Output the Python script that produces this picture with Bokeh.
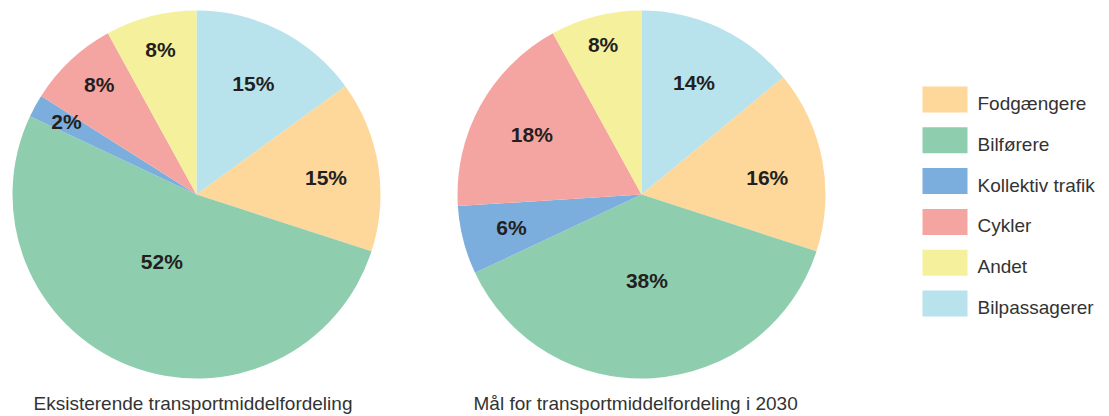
import math
from bokeh.plotting import figure
from bokeh.models import Range1d, ColumnDataSource
from bokeh.core.properties import value
from bokeh.embed import file_html
from bokeh.resources import INLINE

# ---- data ----
categories = ["Bilpassagerer", "Fodgængere", "Bilførere", "Kollektiv trafik", "Cykler", "Andet"]
existing = [15, 15, 52, 2, 8, 8]
goal_2030 = [14, 16, 38, 6, 18, 8]
titles = ["Eksisterende transportmiddelfordeling", "Mål for transportmiddelfordeling i 2030"]
legend_order = ["Fodgængere", "Bilførere", "Kollektiv trafik", "Cykler", "Andet", "Bilpassagerer"]

# ---- style ----
colors = {
    "Bilpassagerer": "#B8E2EC",
    "Fodgængere": "#FDD89A",
    "Bilførere": "#8ECEAF",
    "Kollektiv trafik": "#7BAEDC",
    "Cykler": "#F5A5A1",
    "Andet": "#F5F09B",
}
# label placement: radius fraction and clockwise angle tweak (degrees)
label_r1 = [0.68, 0.71, 0.41, 0.81, 0.80, 0.81]
label_da1 = [0, 1.5, 5.8, 0.5, 1.8, 0.4]
label_r2 = [0.67, 0.69, 0.47, 0.73, 0.68, 0.84]
label_da2 = [0, 2.9, 0, 0, 0, 0]
FONT = "Liberation Sans"
W, H = 1109, 416

def sy(y):  # screen y -> data y
    return H - y

p = figure(width=W, height=H, output_backend="svg", toolbar_location=None,
           x_range=Range1d(0, W), y_range=Range1d(0, H), min_border=0)
p.axis.visible = False
p.grid.visible = False
p.outline_line_color = None
p.background_fill_color = "white"
p.border_fill_color = "white"

R = 184
pies = [(196, 194, existing, label_r1, label_da1, titles[0], 33),
        (641, 194, goal_2030, label_r2, label_da2, titles[1], 473)]

for cx, cyy, vals, lr, lda, title, tx in pies:
    cy = sy(cyy)
    total = float(sum(vals))
    starts, ends, lx, ly, labels, cols = [], [], [], [], [], []
    cum = 0.0
    for cat, v, f, da in zip(categories, vals, lr, lda):
        a0 = math.pi / 2 - 2 * math.pi * cum / total
        a1 = math.pi / 2 - 2 * math.pi * (cum + v) / total
        mid = (a0 + a1) / 2 - math.radians(da)
        starts.append(a0)
        ends.append(a1)
        lx.append(cx + f * R * math.cos(mid))
        ly.append(cy + f * R * math.sin(mid))
        labels.append(f"{v}%")
        cols.append(colors[cat])
        cum += v
    src = ColumnDataSource(dict(x=[cx] * len(vals), y=[cy] * len(vals),
                                start=starts, end=ends, color=cols, cat=categories))
    p.wedge(x="x", y="y", radius=R, start_angle="start", end_angle="end",
            direction="clock", fill_color="color", line_color=None, source=src)
    p.text(x=lx, y=ly, text=labels, text_align="center", text_baseline="middle",
           text_font=value(FONT), text_font_style="bold", text_font_size="21px",
           text_color="#231F20")
    p.text(x=[tx], y=[sy(403)], text=[title], text_align="left", text_baseline="middle",
           text_font=value(FONT), text_font_size="19px", text_color="#333333")

# legend
lg_x0, lg_w, lg_h = 922, 45, 26
lg_tops = [86 + 40.8 * i for i in range(len(legend_order))]
p.rect(x=[lg_x0 + lg_w / 2] * len(legend_order),
       y=[sy(t + lg_h / 2) for t in lg_tops],
       width=lg_w, height=lg_h,
       fill_color=[colors[c] for c in legend_order], line_color=None)
p.text(x=[977] * len(legend_order), y=[sy(t + lg_h / 2 + 4) for t in lg_tops],
       text=legend_order, text_align="left", text_baseline="middle",
       text_font=value(FONT), text_font_size="19px", text_color="#333333")

open("out.html", "w").write(file_html(p, INLINE))
